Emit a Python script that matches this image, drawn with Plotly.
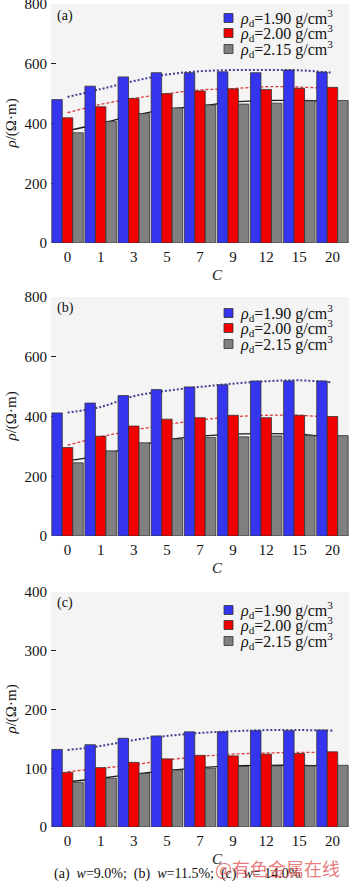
import plotly.graph_objects as go

categories = ["0", "1", "3", "5", "7", "9", "12", "15", "20"]
series_names = ["<i>ρ</i><sub>d</sub>=1.90 g/cm<sup>3</sup>",
                "<i>ρ</i><sub>d</sub>=2.00 g/cm<sup>3</sup>",
                "<i>ρ</i><sub>d</sub>=2.15 g/cm<sup>3</sup>"]

# panel (a) w=9.0%
a_190 = [480, 525, 556, 570, 570, 573, 570, 579, 572]
a_200 = [419, 456, 484, 500, 509, 516, 514, 518, 521]
a_215 = [369, 407, 433, 452, 462, 465, 468, 476, 477]
a_fit_190 = [489, 515, 542, 564, 575, 579, 579, 578, 570]
a_fit_200 = [436, 464, 484, 500, 512, 517, 523, 522, 516]
a_fit_215 = [376, 400, 427, 447, 458, 472, 477, 477, 475]

# panel (b) w=11.5%
b_190 = [412, 445, 470, 490, 499, 506, 519, 519, 519]
b_200 = [296, 334, 368, 391, 396, 404, 396, 404, 400]
b_215 = [245, 285, 312, 325, 330, 332, 335, 336, 336]
b_fit_190 = [413, 432, 468, 486, 499, 510, 518, 521, 514]
b_fit_200 = [304, 332, 354, 373, 388, 399, 404, 404, 396]
b_fit_215 = [252, 270, 299, 321, 334, 341, 343, 341, 329]

# panel (c) w=14.0%
c_190 = [132, 140, 151, 155, 162, 162, 164, 164, 165]
c_200 = [93, 101, 110, 116, 122, 121, 124, 125, 128]
c_215 = [76, 83, 91, 97, 100, 103, 104, 104, 105]
c_fit_190 = [131, 138, 148, 155, 160, 163, 165, 165, 164]
c_fit_200 = [94, 100, 106, 114, 120, 124, 126, 127, 127]
c_fit_215 = [77, 83, 90, 96, 101, 104, 105, 105, 104]

y_ranges = [[0, 800], [0, 800], [0, 400]]
y_ticks = [[0, 200, 400, 600, 800], [0, 200, 400, 600, 800], [0, 100, 200, 300, 400]]
panel_labels = ["(a)", "(b)", "(c)"]
caption = ("(a)&nbsp; <i>w</i>=9.0%;&nbsp; (b)&nbsp; <i>w</i>=11.5%;&nbsp; "
           "(c)&nbsp; <i>w</i>= 14.0%")
watermark = "@有色金属在线"

W, H = 350, 885
FONT = "Liberation Serif"
bar_colors = ["#3535f0", "#f00000", "#808080"]
fit_colors = ["#40409a", "#e03a3a", "#1a1a1a"]
fit_dash = ["2px,2px", "3px,2px", "solid"]
fit_width = [2.0, 1.3, 1.3]

# pixel layout: (top, bottom) of each y axis
panel_px = [(4, 243), (297, 536), (592, 827)]
label_px = [16, 308, 603]
legend_rows = [(18, 33, 49), (313, 328, 344), (610, 625, 641)]
x_px = (51, 349)

def py(p):
    return 1 - p / H

fig = go.Figure()
panels = [
    ([a_190, a_200, a_215], [a_fit_190, a_fit_200, a_fit_215]),
    ([b_190, b_200, b_215], [b_fit_190, b_fit_200, b_fit_215]),
    ([c_190, c_200, c_215], [c_fit_190, c_fit_200, c_fit_215]),
]
for i, (bars, fits) in enumerate(panels):
    xa = "x" if i == 0 else f"x{i+1}"
    ya = "y" if i == 0 else f"y{i+1}"
    for j in range(3):
        fig.add_trace(go.Bar(x=categories, y=bars[j], name=series_names[j],
                             marker=dict(color=bar_colors[j], line=dict(color="#333333", width=0.8)),
                             xaxis=xa, yaxis=ya, showlegend=False, zorder=2))
    for j in range(3):
        fig.add_trace(go.Scatter(x=categories, y=fits[j], mode="lines",
                                 line=dict(color=fit_colors[j], dash=fit_dash[j], width=fit_width[j],
                                           shape="spline"),
                                 xaxis=xa, yaxis=ya, showlegend=False, hoverinfo="skip", zorder=1))

layout = dict(
    width=W, height=H, margin=dict(l=0, r=0, t=0, b=0, autoexpand=False),
    paper_bgcolor="white", plot_bgcolor="#f4f4f4",
    barmode="group", bargap=0.05, bargroupgap=0,
    font=dict(family=FONT, size=15, color="#111111"),
    showlegend=False,
)
annotations = []
shapes = []
for i in range(3):
    sfx = "" if i == 0 else str(i + 1)
    top, bot = panel_px[i]
    layout["xaxis" + sfx] = dict(
        domain=[x_px[0] / W, x_px[1] / W], anchor="y" + sfx, type="category",
        showline=True, linecolor="#555555", linewidth=1, mirror=True, automargin=False,
        ticks="", tickfont=dict(size=15, family=FONT), showgrid=False,
    )
    layout["yaxis" + sfx] = dict(
        domain=[py(bot), py(top)], anchor="x" + sfx, range=y_ranges[i], automargin=False,
        tickvals=y_ticks[i], ticks="inside", ticklen=5, tickcolor="#222222",
        ticklabeloverflow="allow",
        showline=True, linecolor="#555555", linewidth=1, mirror=True,
        showgrid=False, zeroline=False, tickfont=dict(size=15, family=FONT),
    )
    # legend (drawn as swatches + text)
    for j in range(3):
        yc = legend_rows[i][j]
        shapes.append(dict(type="rect", xref="paper", yref="paper",
                           x0=224 / W, x1=233 / W, y0=py(yc + 4.5), y1=py(yc - 4.5),
                           fillcolor=bar_colors[j], line=dict(color="#333333", width=0.8)))
        annotations.append(dict(text=series_names[j], x=238 / W, y=py(yc), xref="paper", yref="paper",
                                xanchor="left", yanchor="middle", showarrow=False,
                                font=dict(size=16, family=FONT)))
    annotations.append(dict(text=panel_labels[i], x=55 / W, y=py(label_px[i]), xref="paper", yref="paper",
                            xanchor="left", yanchor="middle", showarrow=False,
                            font=dict(size=14, family=FONT)))
    annotations.append(dict(text="<i>ρ</i>/(Ω·m)", x=11 / W, y=py((top + bot) / 2), xref="paper", yref="paper",
                            xanchor="center", yanchor="middle", showarrow=False, textangle=-90,
                            font=dict(size=15, family=FONT)))
    annotations.append(dict(text="<i>C</i>", x=217 / W, y=py(bot + 32), xref="paper", yref="paper",
                            xanchor="center", yanchor="middle", showarrow=False,
                            font=dict(size=15, family=FONT)))

annotations.append(dict(text=caption, x=52 / W, y=py(874), xref="paper", yref="paper",
                        xanchor="left", yanchor="middle", showarrow=False,
                        font=dict(size=14, family=FONT)))
annotations.append(dict(text=watermark, x=213 / W, y=py(868), xref="paper", yref="paper",
                        xanchor="left", yanchor="middle", showarrow=False,
                        font=dict(size=18, family="Noto Sans CJK SC", color="rgba(225,80,80,0.75)")))
layout["annotations"] = annotations
layout["shapes"] = shapes
fig.update_layout(**layout)

css_js = (
    "var s=document.createElement('style');"
    "s.textContent='html,body{margin:0!important;padding:0!important;overflow:hidden;}';"
    "document.head.appendChild(s);"
)
fig.write_html("out.html", post_script=css_js)
